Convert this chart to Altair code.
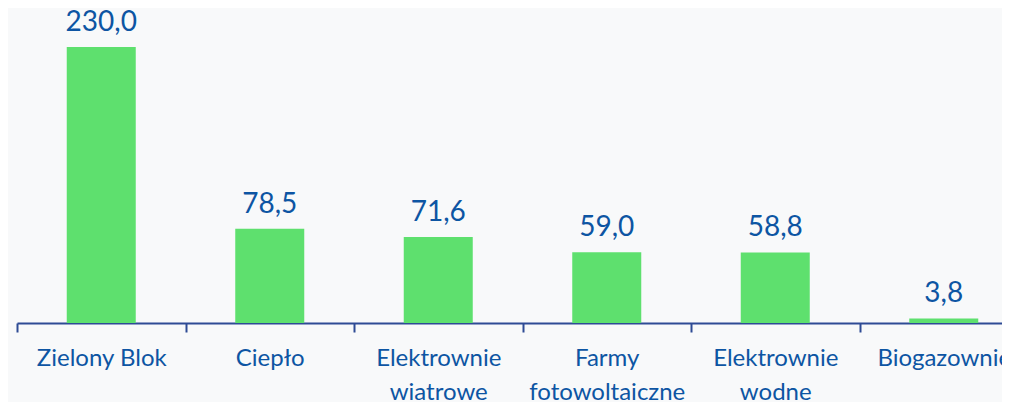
import altair as alt
import pandas as pd

categories = ["Zielony Blok", "Ciepło", "Elektrownie\nwiatrowe", "Farmy\nfotowoltaiczne", "Elektrownie\nwodne", "Biogazownie"]
values = [230.0, 78.5, 71.6, 59.0, 58.8, 3.8]
value_labels = ["230,0", "78,5", "71,6", "59,0", "58,8", "3,8"]

df = pd.DataFrame({"cat": categories, "val": values, "lbl": value_labels})

TEXT = "#0D55A3"
AXIS = "#2E4B95"
GREEN = "#5EE06E"
FONT = "Lato"

x = alt.X("cat:N", sort=None, title=None,
          scale=alt.Scale(range=[0, 1011], paddingInner=0, paddingOuter=0),
          axis=alt.Axis(labelAngle=0, labelExpr="split(datum.label, '\\n')",
                        labelFont=FONT, labelFontSize=24, labelColor=TEXT,
                        labelLineHeight=34, labelPadding=14,
                        tickBand="extent", tickColor=AXIS, tickWidth=2, tickSize=9,
                        domainColor=AXIS, domainWidth=2, labelBaseline="top"))
y = alt.Y("val:Q", scale=alt.Scale(domain=[0, 250], nice=False), axis=None)

bars = alt.Chart(df).mark_bar(color=GREEN, size=69).encode(x=x, y=y)
text = alt.Chart(df).mark_text(baseline="bottom", dy=-10, font=FONT, fontSize=28, color=TEXT).encode(
    x=alt.X("cat:N", sort=None), y=y, text="lbl:N")

chart = (bars + text).properties(
    width=985, height=300,
    autosize=alt.AutoSizeParams(type="none"),
    padding={"left": 9, "top": 15, "right": 0, "bottom": 79},
    background="#F8F9FA",
).configure_view(stroke=None)

chart.save("out.html", embed_options={"renderer": "svg", "actions": False})
